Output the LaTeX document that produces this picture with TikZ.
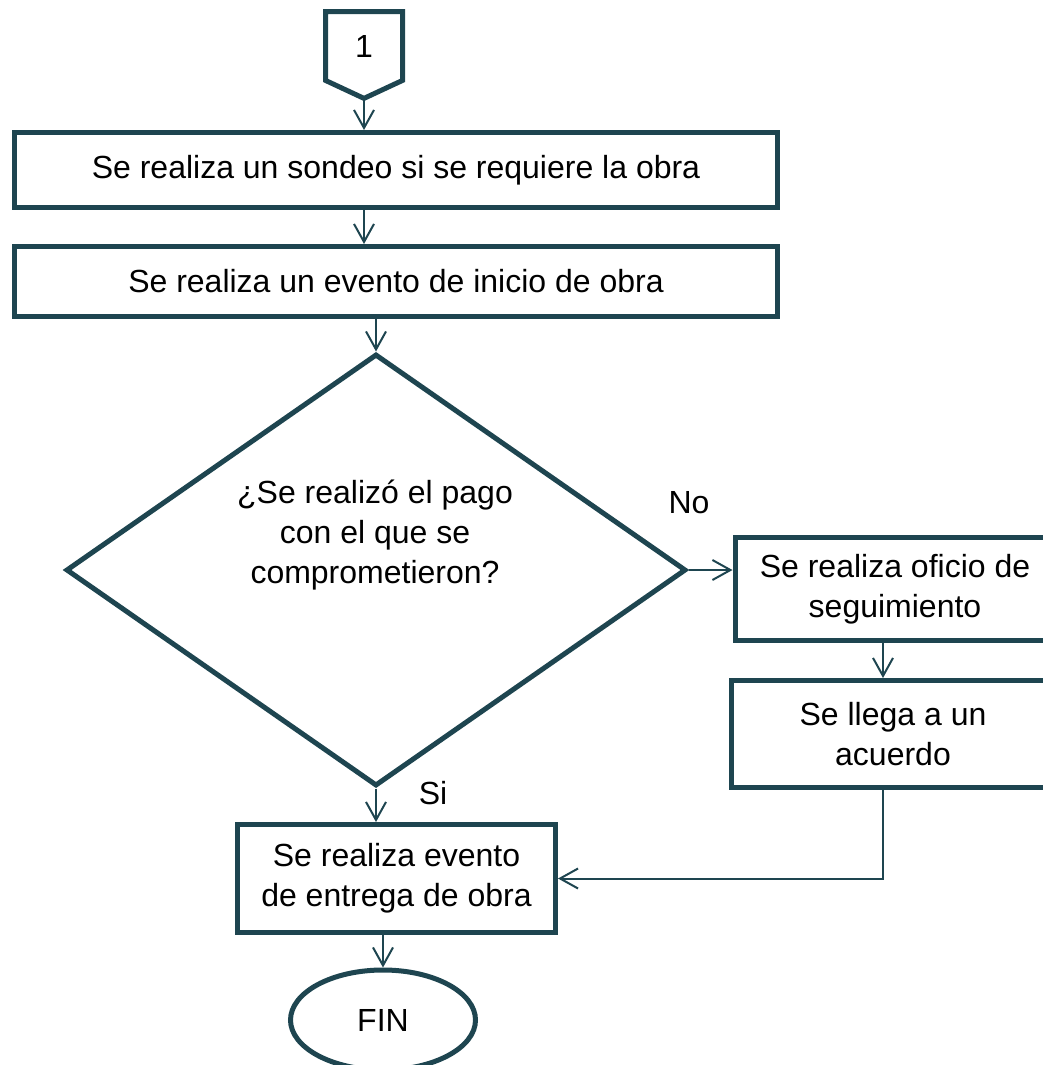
\documentclass[tikz,border=0pt]{standalone}
\usepackage{fontspec}
\setmainfont{Liberation Sans}
\usepackage{tikz}
\usetikzlibrary{arrows.meta,positioning,shapes.geometric,shapes.symbols,calc}
\definecolor{flowline}{RGB}{30,69,80}

\begin{document}
\begin{tikzpicture}[x=0.5pt, y=-0.5pt,
    font=\fontsize{16}{20}\selectfont,
    stepbox/.style={rectangle, draw=flowline, line width=2.5pt, align=center,
                    inner sep=2pt},
    decision/.style={diamond, draw=flowline, line width=2.5pt, inner sep=0pt},
    connector/.style={signal, signal to=south, signal pointer angle=130,
                      draw=flowline, line width=2.5pt, inner sep=0pt},
    terminal/.style={ellipse, draw=flowline, line width=2.5pt, inner sep=0pt},
    flow/.style={-{Straight Barb[length=9pt,width=10pt]}, draw=flowline,
                 line width=1pt}]

    \useasboundingbox (0,0) rectangle (1043,1065);

    % Connector and steps
    \node[connector, minimum width=38.5pt, minimum height=36.5pt] (c1) at (364,46) {1};
    \node[stepbox, minimum width=381.5pt, minimum height=37.5pt] (sondeo) at (396,170)
        {Se realiza un sondeo si se requiere la obra};
    \node[stepbox, minimum width=381.5pt, minimum height=35pt] (inicio) at (396,281.5)
        {Se realiza un evento de inicio de obra};

    % Decision
    \node[decision, minimum width=310pt, minimum height=216pt] (pago) at (376,570) {};
    \node[align=center] (pagotxt) at (375,535)
        {¿Se realizó el pago\\con el que se\\comprometieron?};

    % Branch No
    \node[stepbox, minimum width=160pt, minimum height=51.5pt] (oficio) at (895,589)
        {Se realiza oficio de\\seguimiento};
    \node[stepbox, minimum width=162pt, minimum height=53.5pt] (acuerdo) at (893,734)
        {Se llega a un\\acuerdo};

    % Branch Si and end
    \node[stepbox, minimum width=159pt, minimum height=54pt] (entrega) at (396.5,878.5)
        {Se realiza evento\\de entrega de obra};
    \node[terminal, minimum width=92.5pt, minimum height=50pt] (fin) at (383,1020) {FIN};

    % Connections
    \draw[flow] (c1.south) -- (c1.south |- sondeo.north);
    \draw[flow] (sondeo.south -| c1.south) -- (inicio.north -| c1.south);
    \draw[flow] (inicio.south -| pago.north) -- (pago.north);
    \draw[flow] (pago.east) -- (pago.east -| oficio.west);
    \draw[flow] ([xshift=-6pt]oficio.south) -- ([xshift=-6pt]oficio.south |- acuerdo.north);
    \draw[flow] ([xshift=-5pt]acuerdo.south) |- (entrega.east);
    \draw[flow] (pago.south) -- (pago.south |- entrega.north);
    \draw[flow] (entrega.south -| fin.north) -- (fin.north);

    % Labels
    \node (no) at (689,503) {No};
    \node (si) at (433,793) {Si};
\end{tikzpicture}
\end{document}
